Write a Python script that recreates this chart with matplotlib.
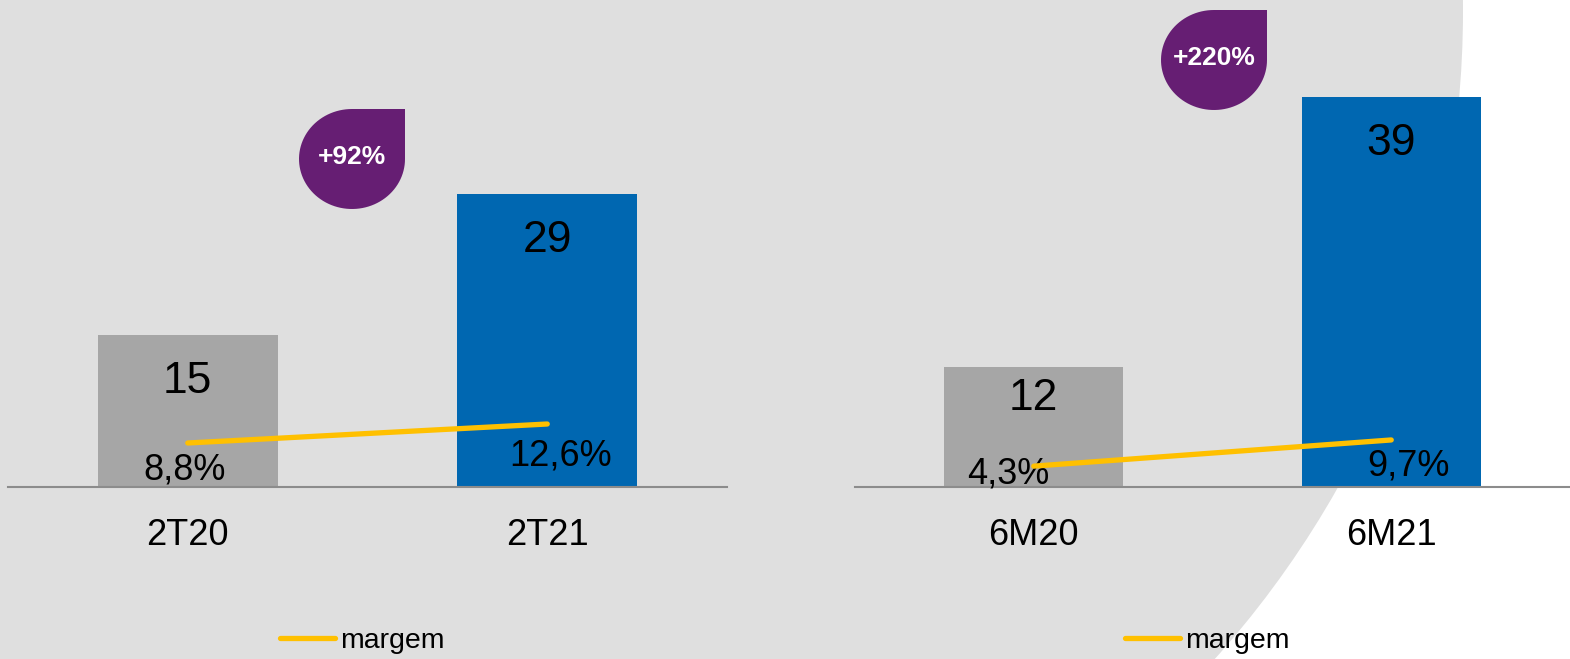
import matplotlib.pyplot as plt
import numpy as np
from matplotlib.patches import Ellipse, Polygon

plt.rcParams['font.family'] = ['Liberation Sans', 'DejaVu Sans']

# dados dos dois graficos
cat_tri = ['2T20', '2T21']
val_tri = [15, 29]
marg_tri = [8.8, 12.6]
badge_tri = '+92%'

cat_sem = ['6M20', '6M21']
val_sem = [12, 39]
marg_sem = [4.3, 9.7]
badge_sem = '+220%'

cores = ['#A6A6A6', '#0067B1']
amarelo = '#FFC000'
roxo = '#661E73'
fundo = '#DFDFDF'

W, H = 1570, 659
fig = plt.figure(figsize=(W / 100, H / 100), dpi=100)
fig.patch.set_facecolor('white')

# circulo cinza do fundo
fig.add_artist(Ellipse((493 / W, 648 / H), 2 * 970 / W, 2 * 970 / H,
                       transform=fig.transFigure, facecolor=fundo,
                       edgecolor='none', zorder=-10))


def badge(cx, cy, texto, rx=53, ry=50):
    # gota: circulo com o canto superior direito quadrado
    t = np.linspace(np.pi / 2, 2 * np.pi, 80)
    pts = [((cx + rx * np.cos(a)) / W, (cy + ry * np.sin(a)) / H) for a in t]
    pts.append(((cx + rx) / W, (cy + ry) / H))
    fig.add_artist(Polygon(pts, closed=True, transform=fig.transFigure,
                           facecolor=roxo, edgecolor='none', zorder=5))
    fig.text(cx / W, (cy + 2) / H, texto, color='white', fontsize=19,
             fontweight='bold', ha='center', va='center', zorder=6)


def painel(rect, cats, vals, margs, ylim, ylim2, off_val, off_marg):
    ax = fig.add_axes(rect)
    ax.set_facecolor('none')
    x = np.arange(len(cats))
    bars = ax.bar(x, vals, width=0.5, color=cores, zorder=2)
    ax.set_xlim(-0.5, 1.5)
    ax.set_ylim(0, ylim)
    for s in ['top', 'left', 'right']:
        ax.spines[s].set_visible(False)
    ax.spines['bottom'].set_color('#8C8C8C')
    ax.spines['bottom'].set_linewidth(1.5)
    ax.spines['bottom'].set_zorder(3)
    ax.set_yticks([])
    ax.set_xticks(x)
    ax.set_xticklabels(cats, fontsize=26)
    ax.tick_params(axis='x', length=0, pad=22)
    for b, v, o in zip(bars, vals, off_val):
        ax.annotate(str(v), (b.get_x() + b.get_width() / 2, v),
                    xytext=(0, -o), textcoords='offset pixels',
                    ha='center', va='baseline', fontsize=32, zorder=4)

    ax2 = ax.twinx()
    ax2.set_ylim(0, ylim2)
    ax2.set_yticks([])
    for s in ax2.spines.values():
        s.set_visible(False)
    ax2.plot(x, margs, color=amarelo, lw=3.8, solid_capstyle='round',
             label='margem', zorder=5)
    for xi, m, (dx, dy) in zip(x, margs, off_marg):
        ax2.annotate(f'{m:.1f}%'.replace('.', ','), (xi, m),
                     xytext=(dx, -dy), textcoords='offset pixels',
                     ha='center', va='baseline', fontsize=26)
    ax2.legend(loc='center', bbox_to_anchor=(0.493, -0.316), frameon=False,
               fontsize=20.5, handlelength=1.93, handletextpad=0.17)
    return ax


painel([8 / W, 172 / H, 719 / W, 487 / H], cat_tri, val_tri, marg_tri,
       48.2, 97.4, [58, 58], [(-3, 37), (13, 41)])
painel([855 / W, 172 / H, 715 / W, 487 / H], cat_sem, val_sem, marg_sem,
       48.7, 100.4, [43, 58], [(-26, 17), (17, 36)])

badge(352, H - 159, badge_tri)
badge(1214, H - 60, badge_sem)

fig.savefig('out.png', dpi=100, facecolor=fig.get_facecolor())
